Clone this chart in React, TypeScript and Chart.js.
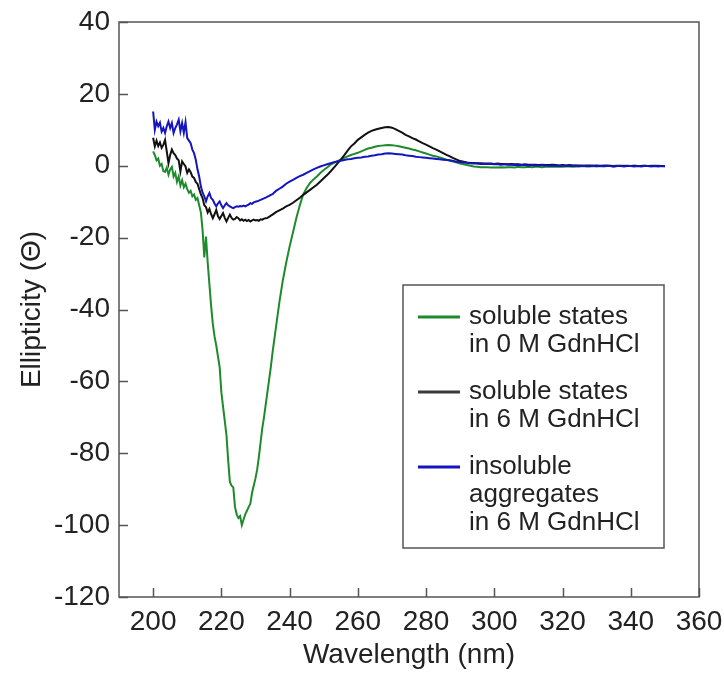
import { useEffect, useRef } from 'react';
import { Chart, registerables } from 'chart.js';

Chart.register(...registerables);

const FONT = '"Liberation Sans", Arial, Helvetica, sans-serif';
const TEXT = '#222222';

const X_TICKS = [200, 220, 240, 260, 280, 300, 320, 340, 360];

const WAVELENGTHS = [
  200, 200.5, 201, 201.5, 202, 202.5, 203, 203.5, 204, 204.5,
  205, 205.5, 206, 206.5, 207, 207.5, 208, 208.5, 209, 209.5,
  210, 210.5, 211, 211.5, 212, 212.5, 213, 213.5, 214, 214.5,
  215, 215.5, 216, 216.5, 217, 217.5, 218, 218.5, 219, 219.5,
  220, 220.5, 221, 221.5, 222, 222.5, 223, 223.5, 224, 224.5,
  225, 225.5, 226, 226.5, 227, 227.5, 228, 228.5, 229, 229.5,
  230, 230.5, 231, 231.5, 232, 232.5, 233, 233.5, 234, 234.5,
  235,
  236, 237, 238, 239, 240, 241, 242, 243, 244, 245,
  246, 247, 248, 249, 250, 251, 252, 253, 254, 255,
  256, 257, 258, 259, 260, 261, 262, 263, 264, 265,
  266, 267, 268, 269, 270, 271, 272, 273, 274, 275,
  276, 277, 278, 279, 280, 281, 282, 283, 284, 285,
  286, 287, 288, 289, 290, 291, 292, 293, 294, 295,
  296, 297, 298, 299, 300, 301, 302, 303, 304, 305,
  306, 307, 308, 309, 310, 311, 312, 313, 314, 315,
  316, 317, 318, 319, 320, 321, 322, 323, 324, 325,
  326, 327, 328, 329, 330, 331, 332, 333, 334, 335,
  336, 337, 338, 339, 340, 341, 342, 343, 344, 345,
  346, 347, 348, 349, 350,
];

const SOLUBLE_0M = [
  4, 3, 1.5, 2, 0, 0.5, -1.5, -1.7, -0.5, -2.5,
  -1, -0.3, -3, -2, -4.5, -3, -5.5, -4, -6, -5,
  -6.5, -7.5, -7, -8.5, -8, -9.5, -9, -11, -13, -18,
  -25.5, -19.7, -27, -33, -39, -44, -47.5, -50, -53, -56,
  -63, -67, -71, -75, -82, -88, -89, -89.5, -95, -97,
  -98, -97.5, -100, -98.5, -97, -96, -95, -94, -91, -89,
  -87, -84.5, -81, -77, -73, -70, -66.5, -63, -59.5, -56,
  -52,
  -45, -38, -32, -27, -22.5, -18.5, -14.5, -11, -8, -6.2,
  -4.8, -3.8, -3, -2, -1.2, -0.5, 0.3, 0.8, 1.3, 1.7,
  2.2, 2.6, 3, 3.3, 3.6, 4, 4.4, 4.8, 5, 5.3,
  5.5, 5.6, 5.7, 5.8, 5.7, 5.6, 5.4, 5.2, 5, 4.8,
  4.5, 4.3, 4, 3.7, 3.4, 3.1, 2.8, 2.6, 2.3, 2,
  1.7, 1.4, 1.2, 0.9, 0.6, 0.4, 0.2, 0, -0.2, -0.3,
  -0.4, -0.4, -0.4, -0.5, -0.5, -0.5, -0.4, -0.5, -0.4, -0.4,
  -0.5, -0.3, -0.4, -0.4, -0.3, -0.4, -0.3, -0.3, -0.4, -0.3,
  -0.2, -0.3, -0.3, -0.2, -0.3, -0.2, -0.2, -0.3, -0.2, -0.2,
  -0.1, -0.2, -0.2, -0.1, -0.2, -0.1, -0.2, -0.1, -0.1, -0.2,
  -0.1, -0.1, 0, -0.1, -0.1, 0, -0.1, -0.1, 0, -0.1,
  0, -0.1, 0, -0.1, -0.1,
];

const SOLUBLE_6M = [
  7.8, 5.4, 7, 5.5, 6.5, 5, 5.8, 7.2, 4, 0.7,
  3, 4.5, 3.5, 3, 2, 1.5, -1.6, 1.2, 0.5, -0.2,
  -2, -1, -1.8, -3, -3.4, -4.5, -5, -6.5, -8, -9,
  -11, -11.5, -13, -12, -13.5, -14.6, -13.5, -12.3, -14, -14.8,
  -14, -13.2, -14.5, -15.5, -14.5, -13.6, -14.5, -15, -14.8, -14.3,
  -14.6, -15.2, -14.9, -15.3, -15, -15.4, -15.1, -15.5, -15.2, -15,
  -15.2, -15.1, -15.3, -14.9, -15, -14.7, -14.6, -14.5, -14.2, -13.9,
  -13.6,
  -12.9, -12.4, -11.9, -11.3, -10.9, -10.3, -9.6, -8.9, -8.1, -7.4,
  -6.7, -6, -5.3, -4.4, -3.5, -2.6, -1.6, -0.5, 0.6, 1.7,
  2.9, 4.2, 5.4, 6.2, 7.2, 7.9, 8.6, 9.2, 9.7, 10,
  10.3, 10.5, 10.7, 10.8, 10.6, 10.2, 9.7, 9.2, 8.6, 8.2,
  7.7, 7.3, 6.8, 6.3, 5.9, 5.4, 4.9, 4.5, 4, 3.5,
  3, 2.6, 2.1, 1.7, 1.3, 1.1, 0.9, 0.8, 0.8, 0.7,
  0.7, 0.6, 0.6, 0.6, 0.5, 0.6, 0.5, 0.5, 0.4, 0.5,
  0.4, 0.4, 0.3, 0.4, 0.3, 0.3, 0.3, 0.2, 0.3, 0.2,
  0.2, 0.3, 0.2, 0.1, 0.2, 0.1, 0.2, 0.1, 0.1, 0.1,
  0, 0.1, 0.1, 0, 0.1, 0, 0, 0.1, 0, -0.1,
  0, 0, -0.1, 0, -0.1, 0, -0.1, -0.1, 0, -0.1,
  -0.1, 0, -0.1, -0.1, -0.1,
];

const INSOLUBLE_6M = [
  15.1, 10, 12.3, 11, 12, 9.5, 10.5, 9.1, 11, 12.3,
  10.5, 11.9, 9.1, 10.5, 11.5, 12.8, 9.6, 11.9, 9.2, 12.1,
  7.7, 7, 6.3, 4.5, 3.5, 1.7, -1, -3, -5.8, -7.5,
  -8.5, -9.9, -8.5, -7.6, -9, -9.5, -10.5, -11.3, -10.5, -9.9,
  -11, -11.8, -11, -10.4, -11, -11.3, -11.6, -11.8, -11.5, -11.3,
  -11.4, -11.2, -11.3, -11.1, -11.3, -11, -10.8, -10.4, -10.6, -10.2,
  -10, -9.9, -9.7, -9.5, -9.3, -9.1, -8.9, -8.6, -8.4, -8.1,
  -7.9,
  -7, -6.4, -5.8, -5, -4.4, -3.9, -3.4, -2.9, -2.5, -2,
  -1.5, -1, -0.6, -0.2, 0.1, 0.4, 0.7, 1, 1.2, 1.4,
  1.6, 1.8, 1.9, 2.1, 2.2, 2.3, 2.5, 2.6, 2.8, 2.9,
  3.1, 3.2, 3.4, 3.5, 3.4, 3.3, 3.2, 3.1, 2.9, 2.8,
  2.7, 2.5, 2.4, 2.3, 2.2, 2.1, 2, 1.9, 1.8, 1.7,
  1.6, 1.5, 1.3, 1.1, 1, 0.9, 0.8, 0.7, 0.6, 0.6,
  0.5, 0.5, 0.5, 0.5, 0.4, 0.4, 0.3, 0.4, 0.3, 0.3,
  0.2, 0.3, 0.2, 0.2, 0.1, 0.2, 0.1, 0.1, 0.2, 0.1,
  0, 0.1, 0, 0, 0.1, 0, -0.1, 0, 0, -0.1,
  0, -0.1, -0.1, 0, -0.1, -0.1, 0, -0.1, -0.1, -0.2,
  -0.1, -0.1, -0.2, -0.1, -0.1, -0.2, -0.1, -0.2, -0.1, -0.1,
  -0.2, -0.1, -0.2, -0.1, -0.2,
];

const SERIES_LABELS = [
  ['soluble states', 'in 0 M GdnHCl'],
  ['soluble states', 'in 6 M GdnHCl'],
  ['insoluble', 'aggregates', 'in 6 M GdnHCl'],
];
const SERIES_COLORS = ['#1f8a2c', '#111111', '#1414c0'];
const LEGEND_LINE_COLORS = ['#1f8a2c', '#3a3a3a', '#1414c0'];

const X_TITLE = 'Wavelength (nm)';
const Y_TITLE = 'Ellipticity (\u0398)';

const toPoints = (ys: number[]) => WAVELENGTHS.map((x, i) => ({ x, y: ys[i] }));

const framePlugin = {
  id: 'frameAndLegend',
  afterDraw(chart: any) {
    const { ctx, chartArea: a, scales } = chart;
    ctx.save();
    ctx.strokeStyle = '#555555';
    ctx.lineWidth = 1.5;
    ctx.strokeRect(a.left, a.top, a.right - a.left, a.bottom - a.top);
    ctx.beginPath();
    for (const t of scales.x.ticks) {
      const px = Math.round(scales.x.getPixelForValue(t.value)) + 0.5;
      ctx.moveTo(px, a.bottom);
      ctx.lineTo(px, a.bottom - 9);
    }
    for (const t of scales.y.ticks) {
      const py = Math.round(scales.y.getPixelForValue(t.value)) + 0.5;
      ctx.moveTo(a.left, py);
      ctx.lineTo(a.left + 9, py);
    }
    ctx.stroke();

    const bx = 403, by = 285, bw = 261, bh = 263;
    ctx.fillStyle = '#ffffff';
    ctx.fillRect(bx, by, bw, bh);
    ctx.strokeStyle = '#555555';
    ctx.lineWidth = 1.5;
    ctx.strokeRect(bx, by, bw, bh);
    ctx.font = `26px ${FONT}`;
    ctx.textBaseline = 'middle';
    ctx.textAlign = 'left';
    const lineH = 28;
    const groupStarts = [317, 392, 467];
    SERIES_LABELS.forEach((lines, i) => {
      const y0 = groupStarts[i];
      ctx.strokeStyle = LEGEND_LINE_COLORS[i];
      ctx.lineWidth = 3;
      ctx.beginPath();
      ctx.moveTo(418, y0);
      ctx.lineTo(460, y0);
      ctx.stroke();
      ctx.fillStyle = TEXT;
      lines.forEach((ln, j) => ctx.fillText(ln, 469, y0 + j * lineH));
    });
    ctx.restore();
  },
};

export default function App() {
  const ref = useRef<HTMLCanvasElement>(null);
  useEffect(() => {
    const series = [SOLUBLE_0M, SOLUBLE_6M, INSOLUBLE_6M];
    const chart = new Chart(ref.current as HTMLCanvasElement, {
      type: 'line',
      data: {
        datasets: series.map((ys, i) => ({
          label: SERIES_LABELS[i].join(' '),
          data: toPoints(ys),
          borderColor: SERIES_COLORS[i],
          backgroundColor: SERIES_COLORS[i],
          borderWidth: 2,
          pointRadius: 0,
          tension: 0,
          fill: false,
          order: 3 - i,
        })),
      },
      options: {
        responsive: false,
        animation: false,
        layout: { padding: { top: 22, right: 25, left: 0, bottom: 0 } },
        plugins: { legend: { display: false }, tooltip: { enabled: false } },
        scales: {
          x: {
            type: 'linear',
            min: 190,
            max: 360,
            afterBuildTicks: (s: any) => {
              s.ticks = X_TICKS.map((v) => ({ value: v }));
            },
            afterFit: (s: any) => {
              s.height = 76;
              s.paddingLeft = 0;
              s.paddingRight = 0;
            },
            grid: { display: false, drawTicks: false },
            border: { display: false },
            ticks: {
              autoSkip: false,
              maxRotation: 0,
              padding: 8,
              color: TEXT,
              font: { family: FONT, size: 28 },
            },
            title: {
              display: true,
              text: X_TITLE,
              color: TEXT,
              font: { family: FONT, size: 28 },
              padding: { top: 0, bottom: 1 },
            },
          },
          y: {
            type: 'linear',
            min: -120,
            max: 40,
            afterFit: (s: any) => {
              s.width = 119;
              s.paddingTop = 0;
              s.paddingBottom = 0;
            },
            grid: { display: false, drawTicks: false },
            border: { display: false },
            ticks: {
              stepSize: 20,
              padding: 9,
              color: TEXT,
              font: { family: FONT, size: 28 },
            },
            title: {
              display: true,
              text: Y_TITLE,
              color: TEXT,
              font: { family: FONT, size: 28 },
              padding: { top: 15, bottom: 0 },
            },
          },
        },
      },
      plugins: [framePlugin],
    });
    return () => chart.destroy();
  }, []);
  return (
    <div style={{ position: 'fixed', left: 0, top: 0, width: 724, height: 673, background: '#ffffff' }}>
      <canvas ref={ref} width={724} height={673} style={{ display: 'block', width: 724, height: 673 }} />
    </div>
  );
}
